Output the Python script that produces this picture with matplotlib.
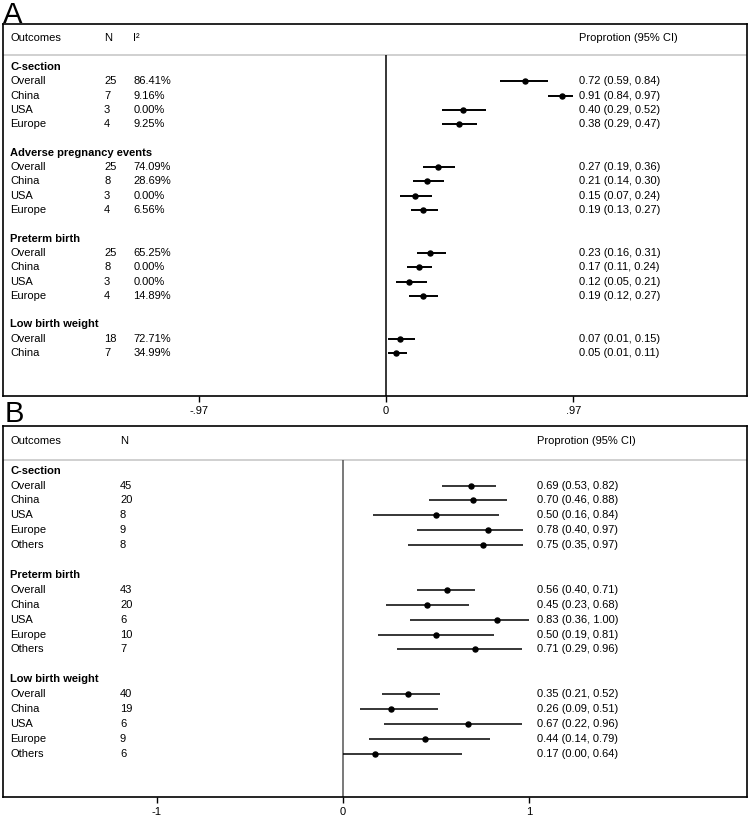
import matplotlib.pyplot as plt

plt.rcParams['font.family'] = ['Liberation Sans', 'DejaVu Sans']

# ---- panel A data ----
a_groups = ["C-section", "Adverse pregnancy events", "Preterm birth", "Low birth weight"]
a_labels = [["Overall", "China", "USA", "Europe"],
            ["Overall", "China", "USA", "Europe"],
            ["Overall", "China", "USA", "Europe"],
            ["Overall", "China"]]
a_n = [[25, 7, 3, 4], [25, 8, 3, 4], [25, 8, 3, 4], [18, 7]]
a_i2 = [["86.41%", "9.16%", "0.00%", "9.25%"],
        ["74.09%", "28.69%", "0.00%", "6.56%"],
        ["65.25%", "0.00%", "0.00%", "14.89%"],
        ["72.71%", "34.99%"]]
a_est = [[0.72, 0.91, 0.40, 0.38], [0.27, 0.21, 0.15, 0.19],
         [0.23, 0.17, 0.12, 0.19], [0.07, 0.05]]
a_lo = [[0.59, 0.84, 0.29, 0.29], [0.19, 0.14, 0.07, 0.13],
        [0.16, 0.11, 0.05, 0.12], [0.01, 0.01]]
a_hi = [[0.84, 0.97, 0.52, 0.47], [0.36, 0.30, 0.24, 0.27],
        [0.31, 0.24, 0.21, 0.27], [0.15, 0.11]]
a_ticks = [-0.97, 0, 0.97]
a_ticklabels = ["-.97", "0", ".97"]

# ---- panel B data ----
b_groups = ["C-section", "Preterm birth", "Low birth weight"]
b_labels = [["Overall", "China", "USA", "Europe", "Others"]] * 3
b_n = [[45, 20, 8, 9, 8], [43, 20, 6, 10, 7], [40, 19, 6, 9, 6]]
b_est = [[0.69, 0.70, 0.50, 0.78, 0.75], [0.56, 0.45, 0.83, 0.50, 0.71],
         [0.35, 0.26, 0.67, 0.44, 0.17]]
b_lo = [[0.53, 0.46, 0.16, 0.40, 0.35], [0.40, 0.23, 0.36, 0.19, 0.29],
        [0.21, 0.09, 0.22, 0.14, 0.00]]
b_hi = [[0.82, 0.88, 0.84, 0.97, 0.97], [0.71, 0.68, 1.00, 0.81, 0.96],
         [0.52, 0.51, 0.96, 0.79, 0.64]]
b_ticks = [-1, 0, 1]
b_ticklabels = ["-1", "0", "1"]

FS = 8


def forest(ax, groups, labels, n, est, lo, hi, i2, cols, xlim, ylim_bottom,
           hline_y, lw, zero_color, ticks, ticklabels):
    ax.set_xlim(*xlim)
    ax.set_ylim(ylim_bottom, 0)

    # header
    ax.text(cols["name"], 1, "Outcomes", fontsize=FS, va="center")
    ax.text(cols["n"], 1, "N", fontsize=FS, va="center")
    if i2 is not None:
        ax.text(cols["i2"], 1, "I²", fontsize=FS, va="center")
    ax.text(cols["ci"], 1, "Proprotion (95% CI)", fontsize=FS, va="center")
    ax.axhline(hline_y, color="#c8c8c8", lw=1.2)
    ax.vlines(0, hline_y, ylim_bottom, color=zero_color, lw=1.1)

    row = 3
    for g in range(len(groups)):
        ax.text(cols["name"], row, groups[g], fontsize=FS, fontweight="bold", va="center")
        row += 1
        for k in range(len(labels[g])):
            ax.text(cols["name"], row, labels[g][k], fontsize=FS, va="center")
            ax.text(cols["n"], row, str(n[g][k]), fontsize=FS, va="center")
            if i2 is not None:
                ax.text(cols["i2"], row, i2[g][k], fontsize=FS, va="center")
            ax.plot([lo[g][k], hi[g][k]], [row, row], color="black", lw=lw,
                    solid_capstyle="butt")
            ax.plot(est[g][k], row, "o", color="black", ms=3.6)
            ax.text(cols["ci"], row, "%.2f (%.2f, %.2f)" % (est[g][k], lo[g][k], hi[g][k]),
                    fontsize=FS, va="center")
            row += 1
        row += 1

    ax.set_xticks(ticks)
    ax.set_xticklabels(ticklabels, fontsize=FS)
    ax.set_yticks([])
    ax.tick_params(axis="x", direction="out", length=4, width=1, pad=3)
    for s in ax.spines.values():
        s.set_color("black")
        s.set_linewidth(1.2)


W, H = 750, 819
fig = plt.figure(figsize=(W / 100, H / 100), dpi=100)

# panel A: box 3..747 px wide, 24..396 px tall
axA = fig.add_axes([3 / W, 1 - 396 / H, 744 / W, 372 / H])
forest(axA, a_groups, a_labels, a_n, a_est, a_lo, a_hi, a_i2,
       {"name": -1.948, "n": -1.461, "i2": -1.31, "ci": 1.0},
       ((3 - 386) / 193, (747 - 386) / 193), 26, 2.2, 1.4, "black",
       a_ticks, a_ticklabels)

# panel B: box 3..747 px wide, 426..797 px tall
axB = fig.add_axes([3 / W, 1 - 797 / H, 744 / W, 371 / H])
forest(axB, b_groups, b_labels, b_n, b_est, b_lo, b_hi, None,
       {"name": -1.79, "n": -1.199, "ci": 1.043},
       ((3 - 343) / 186, (747 - 343) / 186), 24.9, 2.3, 1.1, "#555555",
       b_ticks, b_ticklabels)

fig.text(3 / W, 1 - 1 / H, "A", fontsize=21, va="top", ha="left")
fig.text(5 / W, 1 - 400 / H, "B", fontsize=21, va="top", ha="left")

fig.savefig("out.png", dpi=100)
